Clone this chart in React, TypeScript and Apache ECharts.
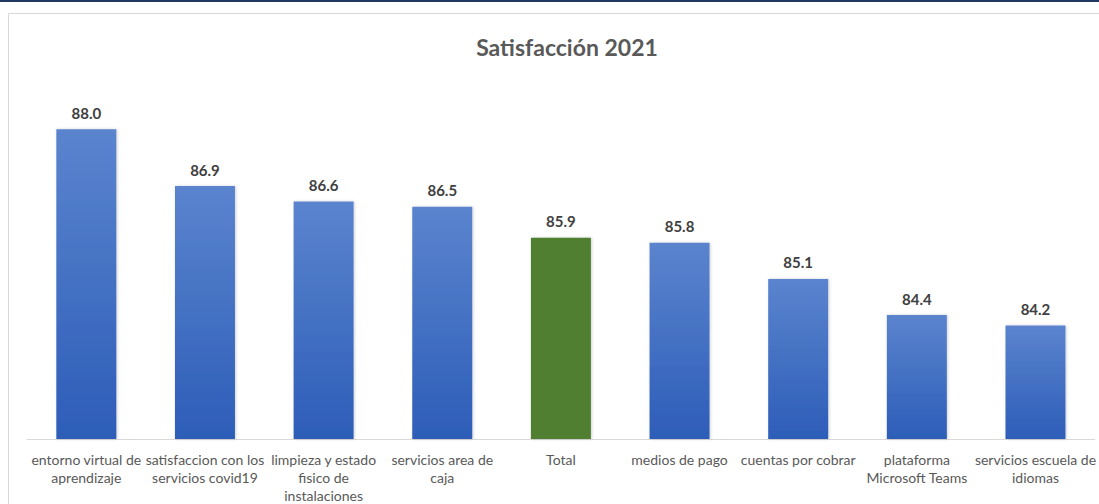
import React, { useEffect, useRef } from "react";
import * as echarts from "echarts";

const TITLE = "Satisfacción 2021";
const categories = [
  "entorno virtual de\naprendizaje",
  "satisfaccion con los\nservicios covid19",
  "limpieza y estado\nfisico de\ninstalaciones",
  "servicios area de\ncaja",
  "Total",
  "medios de pago",
  "cuentas por cobrar",
  "plataforma\nMicrosoft Teams",
  "servicios escuela de\nidiomas",
];
const values = [88.0, 86.9, 86.6, 86.5, 85.9, 85.8, 85.1, 84.4, 84.2];
const highlightCategory = "Total";

const FONT = "Lato, 'Open Sans', sans-serif";

export default function App() {
  const ref = useRef<HTMLDivElement>(null);
  useEffect(() => {
    if (!ref.current) return;
    const chart = echarts.init(ref.current, null, { renderer: "svg" });
    const blueGrad = new echarts.graphic.LinearGradient(0, 0, 0, 1, [
      { offset: 0, color: "#5B84CE" },
      { offset: 1, color: "#2D5DB8" },
    ]);
    chart.setOption({
      animation: false,
      backgroundColor: "#ffffff",
      textStyle: { fontFamily: FONT },
      title: {
        text: TITLE,
        left: 562,
        textAlign: "center",
        top: 30,
        textStyle: { fontSize: 23, fontWeight: "bold", color: "#595959", fontFamily: FONT },
      },
      graphic: [
        { type: "rect", shape: { x: 0, y: 0, width: 1099, height: 2 }, style: { fill: "#1F3864" }, silent: true },
        {
          type: "rect",
          shape: { x: 8.5, y: 13.5, width: 1100, height: 500 },
          style: { fill: "none", stroke: "#D9D9D9", lineWidth: 1 },
          silent: true,
        },
      ],
      grid: { left: 27, right: 3, top: 26, bottom: 64, containLabel: false },
      xAxis: {
        type: "category",
        data: categories,
        axisLine: { lineStyle: { color: "#D9D9D9", width: 1 } },
        axisTick: { show: false },
        axisLabel: {
          interval: 0,
          color: "#595959",
          fontSize: 14,
          lineHeight: 18,
          margin: 11,
          fontFamily: FONT,
        },
      },
      yAxis: { type: "value", min: 82, max: 90, show: false, splitLine: { show: false } },
      series: [
        {
          type: "bar",
          barWidth: 60,
          data: values.map((v, i) => ({
            value: v,
            itemStyle: {
              color: categories[i] === highlightCategory ? "#517F33" : blueGrad,
              shadowColor: "rgba(0,0,0,0.18)",
              shadowBlur: 3,
              shadowOffsetX: 1,
              shadowOffsetY: 0,
            },
          })),
          label: {
            show: true,
            position: "top",
            distance: 9,
            fontSize: 15,
            fontWeight: "bold",
            color: "#404040",
            fontFamily: FONT,
            formatter: (p: any) => Number(p.value).toFixed(1),
          },
        },
      ],
    });
    return () => chart.dispose();
  }, []);
  return (
    <div
      ref={ref}
      style={{ position: "absolute", left: 0, top: 0, width: 1099, height: 504 }}
    />
  );
}
